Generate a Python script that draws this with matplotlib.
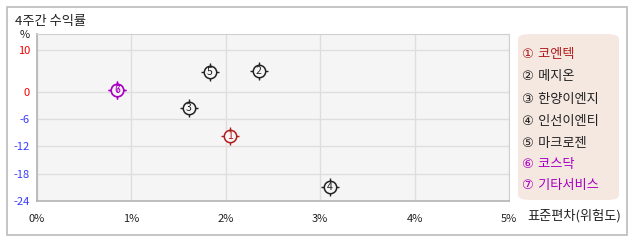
import matplotlib
matplotlib.use("Agg")
import matplotlib.pyplot as plt
import numpy as np
from matplotlib.patches import FancyBboxPatch, Rectangle

plt.rcParams['font.family'] = ['Noto Sans CJK KR', 'DejaVu Sans']

# data
names = ["코엔텍", "메지온", "한양이엔지", "인선이엔티", "마크로젠", "코스닥", "기타서비스"]
nums = ["①", "②", "③", "④", "⑤", "⑥", "⑦"]
risk = [2.04, 2.35, 1.61, 3.10, 1.83, 0.85, 0.85]      # 표준편차 (%)
ret4w = [-9.7, 4.9, -3.6, -20.9, 4.7, 0.5, 0.5]        # 4주간 수익률 (%)
colors = ["#b01c1c", "#222222", "#222222", "#222222", "#222222", "#a800c0", "#a800c0"]
xticks = [0, 1, 2, 3, 4, 5]
yticks = [10, 0, -6, -12, -18, -24]

# positive side of the y axis is drawn a bit compressed, like the original
k = 0.925
def fwd(y):
    y = np.asarray(y, dtype=float)
    return np.where(y > 0, y * k, y)
def inv(y):
    y = np.asarray(y, dtype=float)
    return np.where(y > 0, y / k, y)

fig = plt.figure(figsize=(6.38, 2.42), dpi=100)
W, H = 638, 242

# outer frame
fig.patches.append(Rectangle((6.5 / W, 1 - 235 / H), 620.5 / W, 228 / H,
                             transform=fig.transFigure, fill=False,
                             edgecolor="#bbbbbb", linewidth=1.2))
fig.text(15 / W, 1 - 21 / H, "4주간 수익률", fontsize=9.5, color="#222222", va="center")

ax = fig.add_axes([37 / W, 1 - 201 / H, 472 / W, 167 / H])
ax.set_facecolor("#f5f5f5")
ax.set_yscale("function", functions=(fwd, inv))
ax.set_xlim(0, 5)
ax.set_ylim(-24, 13.8)
ax.set_xticks(xticks)
ax.set_xticklabels([f"{v}%" for v in xticks], fontsize=8, color="#222222")
ax.set_yticks(yticks)
ax.set_yticklabels([str(v) for v in yticks], fontsize=8)
ax.minorticks_off()
for lbl, v in zip(ax.get_yticklabels(), yticks):
    lbl.set_color("#ee0000" if v >= 0 else "#3a3aff")
ax.tick_params(length=0, pad=5)
ax.tick_params(axis="x", pad=9)
ax.grid(True, color="#dedede", linewidth=1)
ax.set_axisbelow(True)
for s in ["top", "right"]:
    ax.spines[s].set_color("#d0d0d0")
for s in ["left", "bottom"]:
    ax.spines[s].set_color("#b4b4b4")
    ax.spines[s].set_linewidth(1.2)

fig.text(25 / W, 1 - 35 / H, "%", fontsize=8, color="#222222", va="center", ha="center")
fig.text(527 / W, 1 - 216 / H, "표준편차(위험도)", fontsize=9.5, color="#222222", va="center")

# markers: crosshair ticks + circle + number
for i in range(len(names)):
    ax.scatter(risk[i], ret4w[i], marker="+", s=150, color=colors[i], linewidths=1, zorder=3)
    ax.scatter(risk[i], ret4w[i], marker="o", s=80, facecolor="#f5f5f5",
               edgecolor=colors[i], linewidths=1.1, zorder=4)
    ax.text(risk[i], ret4w[i], str(i + 1), fontsize=7.5, color=colors[i],
            ha="center", va="center", zorder=5)

# legend box
fig.patches.append(FancyBboxPatch((518 / W, 1 - 200 / H), 101 / W, 166 / H,
                                  boxstyle="round,pad=0,rounding_size=0.02",
                                  transform=fig.transFigure, facecolor="#f5e8e1",
                                  edgecolor="none"))
leg_y = [54.7, 77, 99.3, 121, 143, 164.7, 186]
for i in range(len(names)):
    fig.text(522 / W, 1 - leg_y[i] / H, nums[i] + " " + names[i], fontsize=9.5,
             color=colors[i], va="center", family=['DejaVu Sans', 'Noto Sans CJK KR'])

fig.savefig("out.png", dpi=100)
